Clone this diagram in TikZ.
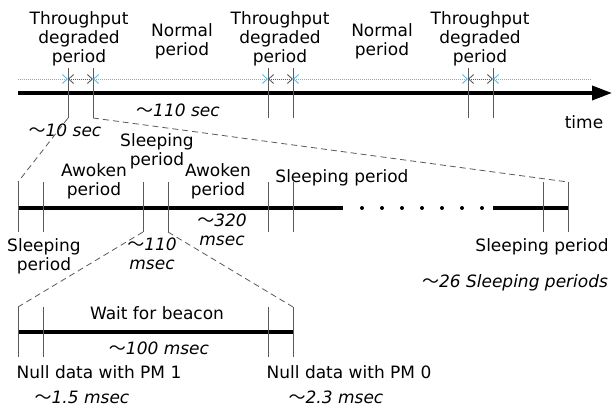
\documentclass[tikz,border=0pt]{standalone}
\usepackage{fontspec}
\setmainfont{DejaVu Sans}
\newfontfamily\cjkf{Noto Sans CJK JP}
\usetikzlibrary{arrows.meta}
\newcommand{\wv}{{\cjkf\upshape ～}}
\definecolor{skyc}{RGB}{80,190,240}
\definecolor{tickc}{RGB}{90,90,90}
\begin{document}
\begin{tikzpicture}[x=1pt,y=-1pt,
  lbl/.style={font=\fontsize{17}{19}\selectfont, inner sep=0pt, align=center},
  ital/.style={font=\fontsize{17}{19}\selectfont\itshape, inner sep=0pt, align=center},
  tickln/.style={draw=tickc, line width=0.9pt},
  axisln/.style={line width=3.6pt},
  zoomln/.style={draw=tickc, line width=0.8pt, dash pattern=on 6pt off 4pt},
  skyln/.style={draw=skyc, line width=0.9pt, dash pattern=on 1pt off 1pt},
  grayln/.style={draw=tickc, line width=0.8pt, dash pattern=on 1pt off 1pt},
  barb/.tip={Straight Barb[length=5pt,width=9pt,line width=0.9pt]}
]
\useasboundingbox (0,0) rectangle (613,407);

% ---------- top level ----------
\coordinate (a1s) at (18,93);
\coordinate (a1e) at (612,93);
\draw[axisln, -{Triangle[length=20pt,width=14pt]}] (a1s) -- (a1e);

\foreach \x [count=\i] in {68,93,268,293,468,493} {
  \coordinate (ta\i) at (\x,68);
  \coordinate (tb\i) at (\x,118);
  \coordinate (tc\i) at (\x,79);
  \draw[tickln] (ta\i) -- (tb\i);
}
\coordinate (c0) at (18,79);
\coordinate (c7) at (592,79);
\draw[skyln, -barb] (c0) -- (tc1);
\draw[grayln, barb-barb] (tc1) -- (tc2);
\draw[skyln, barb-barb] (tc2) -- (tc3);
\draw[grayln, barb-barb] (tc3) -- (tc4);
\draw[skyln, barb-barb] (tc4) -- (tc5);
\draw[grayln, barb-barb] (tc5) -- (tc6);
\draw[skyln, barb-] (tc6) -- (c7);

\node[lbl] (tp1) at (79,39) {Throughput\\degraded\\period};
\node[lbl] (np1) at (182,41) {Normal\\period};
\node[lbl] (tp2) at (280,39) {Throughput\\degraded\\period};
\node[lbl] (np2) at (382,41) {Normal\\period};
\node[lbl] (tp3) at (480,39) {Throughput\\degraded\\period};
\node[ital] (s110) at (178,110) {\wv110 sec};
\node[lbl] (time) at (584,122) {time};
\node[ital] (s10) at (65,130) {\wv10 sec};

% ---------- second level ----------
\coordinate (a2s) at (18,208);
\coordinate (a2m) at (343,208);
\coordinate (a2n) at (493,208);
\coordinate (a2e) at (569,208);
\draw[axisln] (a2s) -- (a2m);
\draw[axisln] (a2n) -- (a2e);
\foreach \x [count=\i] in {362,382,402,422,442,462,482} {
  \fill (\x,208) circle (2pt);
}
\foreach \x [count=\i] in {18,43,143,168,268,293,543,568} {
  \coordinate (sa\i) at (\x,182);
  \coordinate (sb\i) at (\x,232);
  \draw[tickln] (sa\i) -- (sb\i);
}
\draw[zoomln] (tb1) -- (sa1);
\draw[zoomln] (tb2) -- (sa8);

\node[lbl] (sp1) at (157,151) {Sleeping\\period};
\node[lbl] (aw1) at (94,181) {Awoken\\period};
\node[lbl] (aw2) at (218,181) {Awoken\\period};
\node[lbl] (sp2) at (342,178) {Sleeping period};
\node[lbl] (sp3) at (44,256) {Sleeping\\period};
\node[ital] (m320) at (222,230) {\wv320\\msec};
\node[ital] (m110) at (152,254) {\wv110\\msec};
\node[lbl] (sp4) at (542,247) {Sleeping period};
\node[ital] (sp26) at (515,283) {\wv26 Sleeping periods};

% ---------- third level ----------
\coordinate (a3s) at (18,332);
\coordinate (a3e) at (293,332);
\draw[axisln] (a3s) -- (a3e);
\foreach \x [count=\i] in {18,43,268,293} {
  \coordinate (ua\i) at (\x,307);
  \coordinate (ub\i) at (\x,357);
  \draw[tickln] (ua\i) -- (ub\i);
}
\draw[zoomln] (sb3) -- (ua1);
\draw[zoomln] (sb4) -- (ua4);

\node[lbl] (wb) at (157,313) {Wait for beacon};
\node[ital] (m100) at (159,348) {\wv100 msec};
\node[lbl] (pm1) at (99,372) {Null data with PM 1};
\node[ital] (m15) at (82,397) {\wv1.5 msec};
\node[lbl] (pm0) at (349,372) {Null data with PM 0};
\node[ital] (m23) at (336,397) {\wv2.3 msec};
\end{tikzpicture}
\end{document}
